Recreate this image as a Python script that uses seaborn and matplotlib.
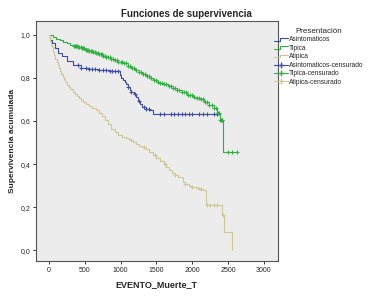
import numpy as np
import pandas as pd
import matplotlib
matplotlib.use("Agg")
import matplotlib.pyplot as plt
from matplotlib.lines import Line2D
from matplotlib.legend_handler import HandlerBase
import seaborn as sns

# Kaplan-Meier step points (time, cumulative survival)
asin_t = [0, 15, 40, 80, 130, 180, 250, 338, 450, 560, 700, 850, 986, 1010, 1030, 1055, 1080, 1100, 1125, 1150, 1180, 1218,
          1240, 1264, 1300, 1350, 1403, 1449, 2375]
asin_s = [1.0, 0.975, 0.96, 0.94, 0.915, 0.9, 0.88, 0.862, 0.848, 0.84, 0.835, 0.83, 0.815, 0.8, 0.79, 0.78, 0.77, 0.758,
          0.745, 0.735, 0.725, 0.713, 0.695, 0.68, 0.666, 0.658, 0.651, 0.631, 0.631]

tip_t = [0, 50, 100, 150, 200, 250, 300, 338, 370, 400, 450, 500, 560, 615, 660, 700, 750, 800, 850, 900, 960, 1032,
         1100, 1150, 1200, 1250, 1300, 1350, 1403, 1450, 1500, 1550, 1600, 1660, 1727, 1790, 1850, 1920, 2005, 2050,
         2100, 2170, 2236, 2300, 2350, 2385, 2435, 2620]
tip_s = [1.0, 0.99, 0.982, 0.975, 0.968, 0.96, 0.955, 0.95, 0.946, 0.943, 0.938, 0.932, 0.927, 0.922, 0.916, 0.91,
         0.903, 0.895, 0.889, 0.883, 0.876, 0.868, 0.855, 0.847, 0.838, 0.828, 0.818, 0.808, 0.798, 0.79, 0.783,
         0.777, 0.77, 0.761, 0.752, 0.742, 0.733, 0.723, 0.713, 0.707, 0.70, 0.687, 0.674, 0.66, 0.636, 0.605,
         0.454, 0.454]

atip_t = [0, 10, 20, 30, 40, 50, 60, 75, 90, 105, 120, 135, 150, 170, 190, 210, 230, 250, 275, 300, 330, 360, 390,
          420, 450, 480, 520, 560, 600, 650, 700, 740, 778, 820, 871, 920, 970, 1020, 1070, 1120, 1170, 1218, 1260,
          1300, 1350, 1403, 1450, 1500, 1550, 1600, 1640, 1681, 1720, 1760, 1800, 1865, 1900, 1950, 2000, 2050,
          2100, 2143, 2190, 2420, 2444, 2551]
atip_s = [1.0, 0.985, 0.97, 0.955, 0.945, 0.93, 0.92, 0.905, 0.89, 0.875, 0.86, 0.845, 0.832, 0.818, 0.805, 0.793,
          0.78, 0.768, 0.757, 0.747, 0.736, 0.727, 0.716, 0.707, 0.698, 0.69, 0.68, 0.672, 0.662, 0.65, 0.635,
          0.622, 0.607, 0.585, 0.562, 0.548, 0.537, 0.528, 0.52, 0.512, 0.503, 0.494, 0.486, 0.478, 0.468, 0.457,
          0.443, 0.43, 0.415, 0.40, 0.386, 0.372, 0.36, 0.35, 0.34, 0.318, 0.308, 0.30, 0.295, 0.29, 0.284, 0.279,
          0.209, 0.163, 0.085, 0.0]

# censored times
asin_c = [400, 450, 520, 560, 600, 640, 700, 760, 800, 850, 880, 920, 960, 1100, 1150, 1200, 1250, 1320, 1360, 1400,
          1550, 1600, 1700, 1750, 1800, 1850, 1900, 1950, 2000, 2100, 2150, 2200, 2300, 2350]
tip_c = [345, 360, 375, 390, 410, 425, 440, 460, 475, 490, 510, 530, 545, 560, 580, 600, 620, 640, 660, 680,
         700, 720, 740, 760, 780, 800, 820, 845, 870, 895, 920, 945, 970, 1000, 1025, 1050, 1075, 1100, 1130,
         1160, 1190, 1220, 1250, 1280, 1310, 1340, 1370, 1400, 1430, 1460, 1490, 1520, 1550, 1580, 1610, 1640,
         1670, 1700, 1730, 1760, 1790, 1820, 1850, 1880, 1910, 1940, 1970, 2000, 2030, 2060, 2090, 2120, 2150,
         2180, 2210, 2240, 2270, 2300, 2330, 2360, 2375, 2390, 2400, 2410, 2420, 2500, 2560, 2620]
atip_c = [1150, 1320, 1480, 1620, 1760, 1900, 2000, 2080, 2120, 2210, 2250, 2300, 2350, 2435]

groups = ["Asintomaticos", "Tipica", "Atipica"]
colors = {"Asintomaticos": "#3e4ca4", "Tipica": "#30b040", "Atipica": "#cfc892"}

rows, cens = [], []
for g, t, s, c in zip(groups, [asin_t, tip_t, atip_t], [asin_s, tip_s, atip_s], [asin_c, tip_c, atip_c]):
    rows.append(pd.DataFrame({"tiempo": t, "surv": s, "grupo": g}))
    # censored mark sits on the step value at that time
    idx = np.searchsorted(np.array(t), np.array(c), side="right") - 1
    cens.append(pd.DataFrame({"tiempo": c, "surv": np.array(s)[idx], "grupo": g}))
curves = pd.concat(rows, ignore_index=True)
censored = pd.concat(cens, ignore_index=True)

sns.set_style("ticks")
plt.rcParams["font.family"] = ["Liberation Sans", "DejaVu Sans"]

fig = plt.figure(figsize=(3.72, 2.98), dpi=100)
ax = fig.add_axes([0.097, 0.124, 0.649, 0.806])
ax.set_facecolor("#ececec")

for g in groups:
    sub = curves[curves.grupo == g]
    sns.lineplot(data=sub, x="tiempo", y="surv", ax=ax, color=colors[g], lw=0.8,
                 drawstyle="steps-post", estimator=None, sort=False, legend=False)
for g in groups:
    sub = censored[censored.grupo == g]
    sns.scatterplot(data=sub, x="tiempo", y="surv", ax=ax, color=colors[g], marker="+",
                    s=10, linewidth=0.8, legend=False, zorder=3)

ax.set_xlim(-180, 3190)
ax.set_ylim(-0.05, 1.065)
ax.set_xticks([0, 500, 1000, 1500, 2000, 2500, 3000])
ax.set_yticks([0, 0.2, 0.4, 0.6, 0.8, 1.0])
ax.set_yticklabels(["0,0", "0,2", "0,4", "0,6", "0,8", "1,0"])
ax.tick_params(labelsize=5, length=2.5, width=0.7, color="#333333", pad=1.5)
for sp in ax.spines.values():
    sp.set_color("#555555")
    sp.set_linewidth(0.8)
ax.set_xlabel("EVENTO_Muerte_T", fontsize=6.5, fontweight="bold", labelpad=5)
ax.set_ylabel("Supervivencia acumulada", fontsize=6, fontweight="bold", labelpad=3)
fig.text(0.5, 0.953, "Funciones de supervivencia", ha="center", va="center", fontsize=7, fontweight="bold")


class StepHandler(HandlerBase):
    def create_artists(self, legend, orig, xdescent, ydescent, width, height, fontsize, trans):
        x0, x1 = -xdescent, -xdescent + width
        ylo, yhi = -ydescent + 0.2 * height, -ydescent + 0.8 * height
        xm = x0 + 0.4 * width
        ln = Line2D([x0, xm, xm, x1], [ylo, ylo, yhi, yhi], color=orig.get_color(), lw=0.8, transform=trans)
        return [ln]


handles, labels, hmap = [], [], {}
for g in groups:
    h = Line2D([], [], color=colors[g], lw=0.8)
    handles.append(h)
    labels.append(g)
    hmap[h] = StepHandler()
for g in groups:
    handles.append(Line2D([], [], color=colors[g], marker="+", lw=0.8, markersize=5))
    labels.append(g + "-censurado")

leg = fig.legend(handles, labels, handler_map=hmap, title="Presentación", loc="upper left",
                 bbox_to_anchor=(0.73, 0.915), frameon=False, fontsize=4.8, title_fontsize=5.8,
                 handlelength=2.0, handletextpad=0.2, labelspacing=0.22, borderaxespad=0)

fig.savefig("out.png", dpi=100)
